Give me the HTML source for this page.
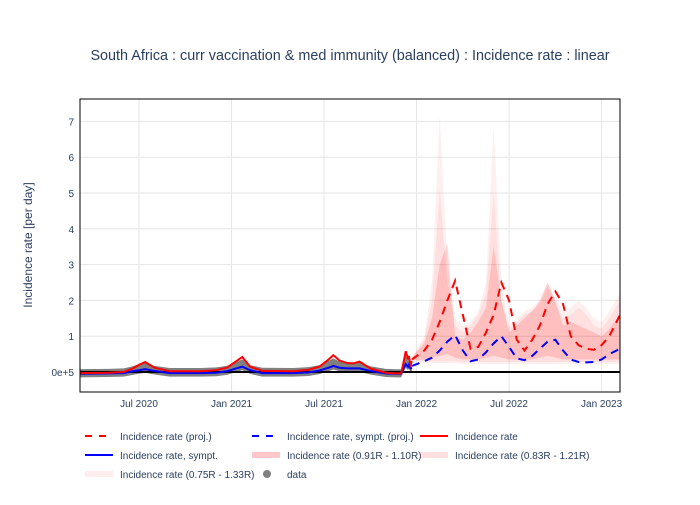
<!DOCTYPE html>
<html><head><meta charset="utf-8"><style>
body{margin:0;background:#fff;font-family:"Liberation Sans",sans-serif}
svg text{font-family:"Liberation Sans",sans-serif}
</style></head><body>
<svg id="c" width="700" height="500" xmlns="http://www.w3.org/2000/svg"></svg>
<script>
// data (x in months since Jan 2020)
const yTicks=[0,1,2,3,4,5,6,7];
const yTickLabels=["0e+5","1","2","3","4","5","6","7"];
const xTicks=[6,12,18,24,30,36];
const xTickLabels=["Jul 2020","Jan 2021","Jul 2021","Jan 2022","Jul 2022","Jan 2023"];
const obsM=[2.2,4,5,5.6,6,6.4,7,8,10,11,11.7,12.3,12.7,13.2,14,16,17,17.7,18.3,18.6,19,19.5,19.9,20.3,21,22,22.7,23.0,23.1,23.3,23.45,23.5,23.6,23.7];
const obsRed=[-0.03,-0.02,0.0,0.1,0.2,0.28,0.12,0.02,0.02,0.05,0.12,0.3,0.42,0.15,0.03,0.02,0.06,0.15,0.35,0.47,0.32,0.25,0.24,0.29,0.1,-0.02,-0.04,-0.04,0.15,0.58,0.35,0.45,0.2,0.3];
const obsBlue=[-0.05,-0.04,-0.03,0.02,0.05,0.08,0.03,-0.03,-0.03,-0.02,0.02,0.1,0.15,0.05,-0.03,-0.03,-0.01,0.04,0.12,0.17,0.12,0.1,0.1,0.1,0.03,-0.04,-0.05,-0.05,0.05,0.22,0.15,0.2,0.1,0.12];
const projM=[23.7,24.5,25,25.5,26,26.5,27,27.5,28,28.5,29,29.5,30,30.5,31,31.5,32,32.5,33,33.5,34,34.5,35,35.5,36,36.5,37.2];
const projRed=[0.35,0.6,0.9,1.4,2.0,2.55,1.6,0.65,0.7,1.1,1.6,2.5,2.0,0.9,0.6,0.9,1.3,1.9,2.25,1.9,1.0,0.75,0.65,0.62,0.75,1.0,1.6];
const projBlue=[0.17,0.3,0.4,0.6,0.85,1.03,0.6,0.3,0.35,0.55,0.8,1.0,0.7,0.38,0.33,0.45,0.65,0.85,0.9,0.6,0.35,0.28,0.27,0.28,0.35,0.5,0.65];
const lightUp=[0.4,1.0,2.5,7.2,3.0,1.5,1.3,1.4,1.7,2.5,6.9,2.5,1.3,1.5,1.7,1.8,2.0,2.5,2.1,1.7,1.8,2.0,1.8,1.5,1.4,1.7,2.2];
const lightLo=[0.3,0.25,0.25,0.25,0.25,0.25,0.22,0.22,0.22,0.22,0.22,0.22,0.22,0.22,0.22,0.22,0.22,0.22,0.22,0.22,0.22,0.22,0.22,0.22,0.22,0.22,0.22];
const medUp=[0.4,0.9,2.0,5.1,2.5,1.3,1.1,1.3,1.6,2.2,5.0,2.0,1.2,1.4,1.6,1.7,1.9,2.4,1.9,1.5,1.6,1.8,1.6,1.3,1.2,1.5,2.0];
const medLo=[0.32,0.3,0.3,0.3,0.3,0.3,0.28,0.28,0.28,0.28,0.28,0.28,0.28,0.28,0.28,0.28,0.28,0.28,0.28,0.28,0.28,0.28,0.28,0.28,0.28,0.28,0.28];
const darkUp=[0.4,0.8,1.5,3.0,3.6,1.0,0.9,1.1,1.4,1.8,3.5,2.0,1.1,1.3,1.5,1.7,2.0,2.5,2.0,1.3,1.4,1.3,1.2,1.1,1.0,1.2,1.6];
const darkLo=[0.33,0.35,0.4,0.45,0.5,0.4,0.35,0.35,0.35,0.4,0.45,0.4,0.35,0.35,0.35,0.35,0.4,0.45,0.4,0.35,0.35,0.35,0.35,0.35,0.35,0.35,0.35];

const L=80,R=620,T=99,B=392;
const X=m=>139+(m-6)*15.42;
const Y=v=>372-v*35.8;
const NS="http://www.w3.org/2000/svg";
const svg=document.getElementById('c');
function el(t,a,p){const e=document.createElementNS(NS,t);for(const k in a)e.setAttribute(k,a[k]);(p||svg).appendChild(e);return e;}
const defs=el('defs',{});const cp=el('clipPath',{id:'cp'},defs);el('rect',{x:L,y:T,width:R-L,height:B-T},cp);

const title=el('text',{x:350,y:60,'text-anchor':'middle','font-size':14.4,fill:'#2a3f5f'});


title.textContent='South Africa : curr vaccination & med immunity (balanced) : Incidence rate : linear';

const grid=el('g',{});


yTicks.forEach((v,i)=>{
  el('line',{x1:L,x2:R,y1:Y(v),y2:Y(v),stroke:'#e6e6e6'},grid);
  const t=el('text',{x:L-6,y:Y(v)+4,'text-anchor':'end','font-size':10,fill:'#2a3f5f'});
  
  
  t.textContent=yTickLabels[i];
});
xTicks.forEach((m,i)=>{
  el('line',{x1:X(m),x2:X(m),y1:T,y2:B,stroke:'#e6e6e6'},grid);
  const t=el('text',{x:X(m),y:B+15,'text-anchor':'middle','font-size':10,fill:'#2a3f5f'});
  
  
  t.textContent=xTickLabels[i];
});
const yt=el('text',{x:32,y:245,'text-anchor':'middle','font-size':12,fill:'#2a3f5f',transform:'rotate(-90 32 245)'});


yt.textContent='Incidence rate [per day]';

const plot=el('g',{'clip-path':'url(#cp)'});


function band(up,lo,fill,name){
  let d='M'+projM.map((m,i)=>X(m)+','+Y(up[i])).join('L');
  for(let i=projM.length-1;i>=0;i--)d+='L'+X(projM[i])+','+Y(lo[i]);
  const p=el('path',{d:d+'Z',fill:fill,stroke:'none'},plot);
  
  
}
band(lightUp,lightLo,'rgba(255,0,0,0.06)','band-075-133');
band(medUp,medLo,'rgba(255,0,0,0.07)','band-083-121');
band(darkUp,darkLo,'rgba(255,0,0,0.14)','band-091-110');
// data band
let dd='M'+obsM.map((m,i)=>X(m)+','+Y(Math.max(obsBlue[i],obsRed[i]*0.6)+0.1)).join('L');
for(let i=obsM.length-1;i>=0;i--)dd+='L'+X(obsM[i])+','+Y(obsBlue[i]-0.1);
const db=el('path',{d:dd+'Z',fill:'#808080'},plot);


const zl=el('line',{x1:L,x2:R,y1:Y(0),y2:Y(0),stroke:'#000','stroke-width':2},plot);


function line(ms,vs,col,dash,name){
  const p=el('path',{d:'M'+ms.map((m,i)=>X(m)+','+Y(vs[i])).join('L'),fill:'none',stroke:col,'stroke-width':2,'stroke-dasharray':dash||'none'},plot);
  
  
}
line(obsM,obsBlue,'#0000ff',null,'line-sympt');
line(obsM,obsRed,'#ff0000',null,'line-incidence');
line(projM,projBlue,'#0000ff','8,6','line-sympt-proj');
line(projM,projRed,'#ff0000','8,6','line-incidence-proj');
const fr=el('rect',{x:L,y:T,width:R-L,height:B-T,fill:'none',stroke:'#000','stroke-width':1});



// legend
const leg=el('g',{});


const items=[
 [85,436,'dash','#ff0000','Incidence rate (proj.)'],
 [252,436,'dash','#0000ff','Incidence rate, sympt. (proj.)'],
 [420,436,'line','#ff0000','Incidence rate'],
 [85,455,'line','#0000ff','Incidence rate, sympt.'],
 [252,455,'fill','rgba(255,0,0,0.22)','Incidence rate (0.91R - 1.10R)'],
 [420,455,'fill','rgba(255,0,0,0.12)','Incidence rate (0.83R - 1.21R)'],
 [85,474,'fill','rgba(255,0,0,0.07)','Incidence rate (0.75R - 1.33R)'],
 [252,474,'dot','#808080','data']];
items.forEach(([x,y,k,c,txt])=>{
  const g=el('g',{},leg);
  
  
  if(k==='dash')el('line',{x1:x,x2:x+28,y1:y,y2:y,stroke:c,'stroke-width':2,'stroke-dasharray':'7,7'},g);
  else if(k==='line')el('line',{x1:x,x2:x+28,y1:y,y2:y,stroke:c,'stroke-width':2},g);
  else if(k==='fill')el('rect',{x:x,y:y-3,width:28,height:6,fill:c},g);
  else el('circle',{cx:x+15,cy:y,r:4,fill:c},g);
  const t=el('text',{x:x+35,y:y+4,'font-size':10,fill:'#2a3f5f'},g);
  t.textContent=txt;
});
</script>
</body></html>
